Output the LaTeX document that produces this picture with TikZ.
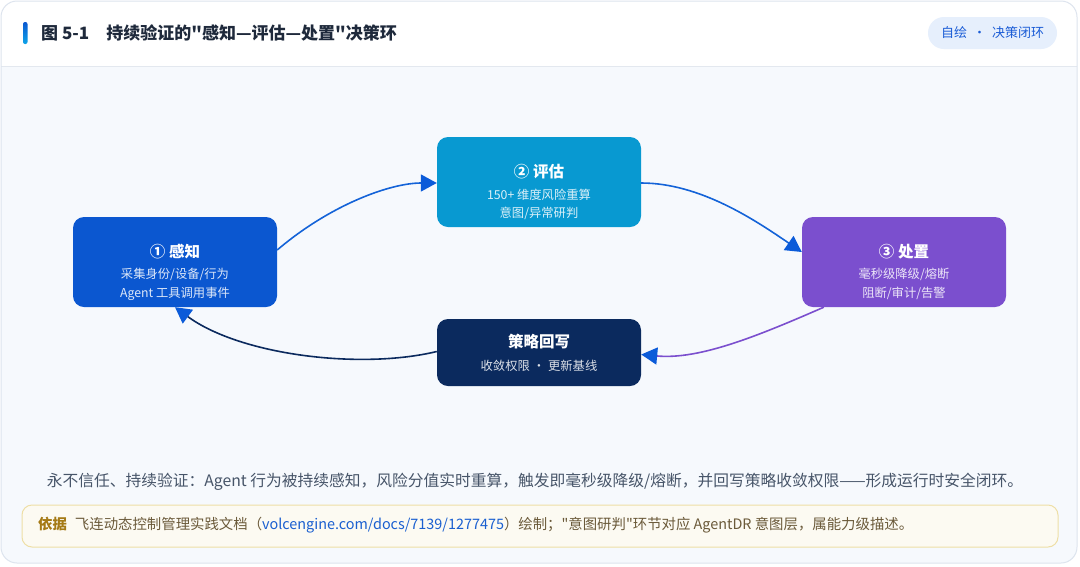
\documentclass[tikz,border=0pt]{standalone}
\usepackage{fontspec}
\setmainfont{Noto Sans CJK SC}[Ligatures=TeXOff]
\usetikzlibrary{arrows.meta,calc}
\definecolor{cA}{HTML}{0B57D0}
\definecolor{cB}{HTML}{0899D1}
\definecolor{cC}{HTML}{7B4FCE}
\definecolor{cD}{HTML}{0B2A5E}
\definecolor{arrowc}{HTML}{0B5BD9}
\definecolor{lineblue}{HTML}{1463D8}
\definecolor{capc}{HTML}{475569}
\definecolor{titlec}{HTML}{1E293B}
\definecolor{bodybg}{HTML}{F6F9FD}
\definecolor{cardborder}{HTML}{DDE4EE}
\definecolor{sepc}{HTML}{E3E8EF}
\definecolor{badgebg}{HTML}{E6EFFC}
\definecolor{badgetext}{HTML}{1A5CD6}
\definecolor{srcbg}{HTML}{FCFAF2}
\definecolor{srcborder}{HTML}{EEDFA6}
\definecolor{goldc}{HTML}{A57A16}
\definecolor{srctext}{HTML}{6B5A3A}
\definecolor{linkc}{HTML}{1A5FD0}
\definecolor{accA}{HTML}{0B57D0}
\definecolor{accB}{HTML}{0EA5E9}
\begin{document}
\begin{tikzpicture}[x=1pt,y=-1pt,
  stage/.style={rounded corners=11, minimum width=204, minimum height=90, inner sep=0pt},
  ttl/.style={text=white, font=\bfseries\fontsize{15.5}{18}\selectfont, inner sep=0pt},
  sub/.style={text=white, text opacity=0.86, font=\fontsize{12.3}{14}\selectfont, inner sep=0pt},
  conn/.style={line width=1.6pt},
  tip/.style={-{Triangle[length=16pt,width=17pt,color=arrowc]}}
]
\useasboundingbox (0,0) rectangle (1080,566);
\fill[white] (0,0) rectangle (1080,566);
\begin{scope}
  \clip[rounded corners=16] (1,1) rectangle (1077,563);
  \fill[white] (0,0) rectangle (1080,66);
  \fill[bodybg] (0,66) rectangle (1080,566);
  \draw[sepc, line width=1pt] (0,66.5) -- (1080,66.5);
\end{scope}
\draw[cardborder, line width=1pt, rounded corners=16] (1,1) rectangle (1077,563);

% header
\shade[top color=accA, bottom color=accB, rounded corners=2] (23,22) rectangle (27.5,44);
\node[anchor=west, inner sep=0pt, text=titlec, font=\bfseries\fontsize{17}{20}\selectfont] (title) at (41,33) {图 5-1\hspace{17pt}持续验证的"感知—评估—处置"决策环};
\node[fill=badgebg, rounded corners=16, minimum width=129, minimum height=32, inner sep=0pt, text=badgetext, font=\fontsize{13}{16}\selectfont] (badge) at (992.5,33) {自绘\hspace{6pt}·\hspace{6pt}决策闭环};

% stages
\node[stage, fill=cA] (perc) at (175,262) {};
\node[stage, fill=cB] (eval) at (539,182) {};
\node[stage, fill=cC] (act) at (904,262) {};
\node[stage, fill=cD, minimum height=67] (fb) at (539,352.5) {};

\node[ttl] (percT) at ($(perc.north)+(0,35)$) {① 感知};
\node[sub] (percS1) at ($(perc.north)+(0,58)$) {采集身份/设备/行为};
\node[sub] (percS2) at ($(perc.north)+(0,77)$) {Agent 工具调用事件};

\node[ttl] (evalT) at ($(eval.north)+(0,35)$) {② 评估};
\node[sub] (evalS1) at ($(eval.north)+(0,58)$) {150+ 维度风险重算};
\node[sub] (evalS2) at ($(eval.north)+(0,77)$) {意图/异常研判};

\node[ttl] (actT) at ($(act.north)+(0,35)$) {③ 处置};
\node[sub] (actS1) at ($(act.north)+(0,58)$) {毫秒级降级/熔断};
\node[sub] (actS2) at ($(act.north)+(0,77)$) {阻断/审计/告警};

\node[ttl] (fbT) at ($(fb.north)+(0,23)$) {策略回写};
\node[sub] (fbS) at ($(fb.north)+(0,47)$) {收敛权限\hspace{3pt}·\hspace{3pt}更新基线};

% connectors
\draw[conn, lineblue, tip] ($(perc.east)+(0,-12)$) .. controls (330,205) and (390,183) .. ($(eval.west)+(0,1)$);
\draw[conn, lineblue, tip] ($(eval.east)+(0,1)$) .. controls (700,183) and (755,220) .. ($(act.west)+(0,-10)$);
\draw[conn, cC, tip] ($(act.south west)+(22,0)$) .. controls (760,335) and (700,360) .. ($(fb.east)+(0,2)$);
\draw[conn, cD, tip] ($(fb.west)+(0,-1)$) .. controls (360,370) and (240,355) .. (perc.south);

% caption
\node[inner sep=0pt, text=capc, font=\fontsize{15.75}{18}\selectfont] (cap) at (535,482) {永不信任、持续验证：Agent 行为被持续感知，风险分值实时重算，触发即毫秒级降级/熔断，并回写策略收敛权限——形成运行时安全闭环。};

% source
\node[draw=srcborder, fill=srcbg, line width=1pt, rounded corners=10, minimum width=1036, minimum height=42, inner sep=0pt] (src) at (540,526) {};
\node[anchor=west, inner sep=0pt, text=srctext, font=\fontsize{14.4}{16}\selectfont] (srcT) at (38,525) {{\bfseries\color{goldc}依据}\hspace{8pt}飞连动态控制管理实践文档（{\color{linkc}volcengine.com/docs/7139/1277475}）绘制；"意图研判"环节对应 AgentDR 意图层，属能力级描述。};
\end{tikzpicture}
\end{document}
